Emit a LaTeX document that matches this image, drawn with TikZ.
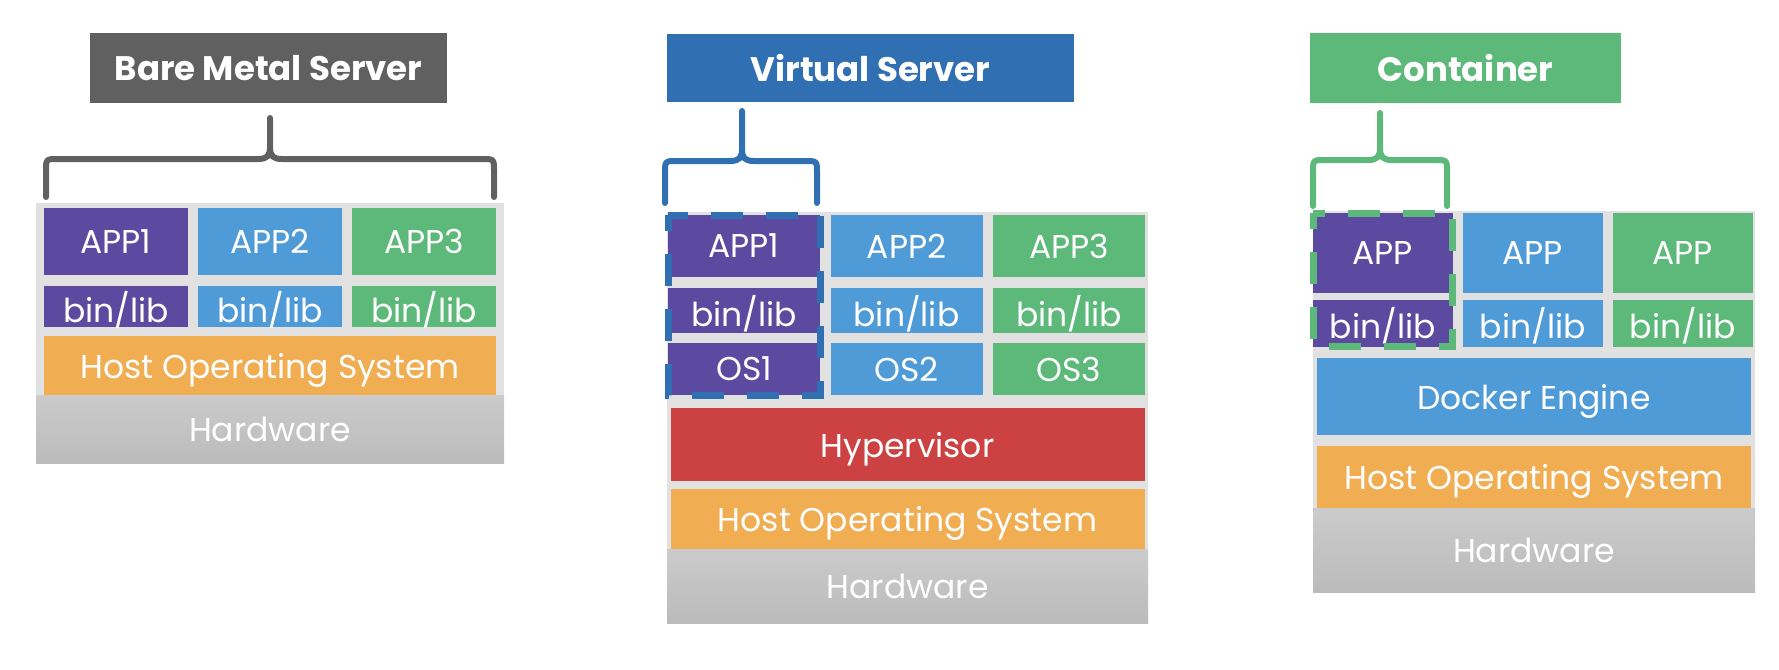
\documentclass[tikz,border=0pt]{standalone}
\usepackage{fontspec}
\setmainfont{Poppins}
\usetikzlibrary{positioning}

\definecolor{appPurple}{HTML}{5B4A9F}
\definecolor{appBlue}{HTML}{4F9BD7}
\definecolor{appGreen}{HTML}{5CB979}
\definecolor{hostOrange}{HTML}{F1AD52}
\definecolor{hypRed}{HTML}{CC4242}
\definecolor{titleGray}{HTML}{606060}
\definecolor{titleBlue}{HTML}{3070B2}
\definecolor{stackGray}{HTML}{E1E1E1}
\definecolor{hwTop}{HTML}{CBCBCB}
\definecolor{hwBottom}{HTML}{BBBBBB}

\tikzset{
  % cell style is used for every coloured layer of a stack
  cell/.style={rectangle, inner sep=0pt, outer sep=0pt, text=white, text depth=0pt,
  font=\fontsize{33}{36}\selectfont},
  titlebox/.style={cell, anchor=north west, font=\bfseries\fontsize{34}{38}\selectfont},
  stackbg/.style={rectangle, inner sep=0pt, outer sep=0pt, anchor=north west, fill=stackGray},
  hwcell/.style={cell, anchor=south, top color=hwTop, bottom color=hwBottom},
  bracket/.style={line width=6pt, line cap=round, line join=round},
  dashbox/.style={line width=7pt, dash pattern=on 32pt off 23pt, dash phase=16pt}}

\begin{document}
\begin{tikzpicture}[x=1pt, y=-1pt]

\path[fill=white] (0,0) rectangle (1779,669);

% ---------------- Bare Metal Server ----------------
\draw (90,33) node (bmtitle) [titlebox, fill=titleGray, minimum width=357pt, minimum height=70pt] {Bare Metal Server};

\draw [bracket, titleGray] (46,197) -- (46,171) .. controls (46,159) .. (58,159) -- (258,159)
  .. controls (267,159) and (270,156) .. (270,147) -- (270,118);
\draw [bracket, titleGray] (494,197) -- (494,171) .. controls (494,159) .. (482,159) -- (282,159)
  .. controls (273,159) and (270,156) .. (270,147);

\draw (36,203) node (bmstack) [stackbg, minimum width=468pt, minimum height=260pt] {};
\draw (bmstack.south) node (bmhw) [hwcell, minimum width=468pt, minimum height=68pt] {Hardware};
\draw (bmhw.north) node (bmhost) [cell, anchor=south, fill=hostOrange, minimum width=452pt, minimum height=59pt] {Host Operating System};

\draw (44,327) node (bmlib1) [cell, anchor=south west, fill=appPurple, minimum width=144pt, minimum height=41pt] {bin/lib};
\node (bmlib2) [cell, right=10pt of bmlib1, fill=appBlue, minimum width=144pt, minimum height=41pt] {bin/lib};
\node (bmlib3) [cell, right=10pt of bmlib2, fill=appGreen, minimum width=144pt, minimum height=41pt] {bin/lib};

\node (bmapp1) [cell, above=11pt of bmlib1, fill=appPurple, minimum width=144pt, minimum height=67pt] {APP1};
\node (bmapp2) [cell, above=11pt of bmlib2, fill=appBlue, minimum width=144pt, minimum height=67pt] {APP2};
\node (bmapp3) [cell, above=11pt of bmlib3, fill=appGreen, minimum width=144pt, minimum height=67pt] {APP3};

% ---------------- Virtual Server ----------------
\draw (667,34) node (vstitle) [titlebox, fill=titleBlue, minimum width=407pt, minimum height=68pt] {Virtual Server};

\draw [bracket, titleBlue] (665,203) -- (665,173) .. controls (665,161) .. (677,161) -- (730,161)
  .. controls (739,161) and (742,158) .. (742,149) -- (742,111);
\draw [bracket, titleBlue] (817,203) -- (817,173) .. controls (817,161) .. (805,161) -- (754,161)
  .. controls (745,161) and (742,158) .. (742,149);

\draw (667,212) node (vsstack) [stackbg, minimum width=481pt, minimum height=411pt] {};
\draw (vsstack.south) node (vshw) [hwcell, minimum width=481pt, minimum height=74pt] {Hardware};
\draw (vshw.north) node (vshost) [cell, anchor=south, fill=hostOrange, minimum width=474pt, minimum height=60.5pt] {Host Operating System};
\node (vshyp) [cell, above=7.5pt of vshost, fill=hypRed, minimum width=474pt, minimum height=73pt] {Hypervisor};

\draw (668,395) node (vsos1) [cell, anchor=south west, fill=appPurple, minimum width=152pt, minimum height=52pt] {OS1};
\node (vsos2) [cell, right=10.5pt of vsos1, fill=appBlue, minimum width=152pt, minimum height=52pt] {OS2};
\node (vsos3) [cell, right=10.5pt of vsos2, fill=appGreen, minimum width=152pt, minimum height=52pt] {OS3};

\node (vslib1) [cell, above=10pt of vsos1, fill=appPurple, minimum width=152pt, minimum height=45pt] {bin/lib};
\node (vslib2) [cell, above=10pt of vsos2, fill=appBlue, minimum width=152pt, minimum height=45pt] {bin/lib};
\node (vslib3) [cell, above=10pt of vsos3, fill=appGreen, minimum width=152pt, minimum height=45pt] {bin/lib};

\node (vsapp1) [cell, above=11pt of vslib1, fill=appPurple, minimum width=152pt, minimum height=62pt] {APP1};
\node (vsapp2) [cell, above=11pt of vslib2, fill=appBlue, minimum width=152pt, minimum height=62pt] {APP2};
\node (vsapp3) [cell, above=11pt of vslib3, fill=appGreen, minimum width=152pt, minimum height=62pt] {APP3};

\draw [dashbox, titleBlue] (vsapp1.north west) rectangle (vsos1.south east);

% ---------------- Container ----------------
\draw (1310,33) node (cttitle) [titlebox, fill=appGreen, minimum width=311pt, minimum height=70pt] {Container};

\draw [bracket, appGreen] (1313,206) -- (1313,172) .. controls (1313,160) .. (1325,160) -- (1368,160)
  .. controls (1377,160) and (1380,157) .. (1380,148) -- (1380,113);
\draw [bracket, appGreen] (1447,206) -- (1447,172) .. controls (1447,160) .. (1435,160) -- (1392,160)
  .. controls (1383,160) and (1380,157) .. (1380,148);

\draw (1313,211) node (ctstack) [stackbg, minimum width=442pt, minimum height=381pt] {};
\draw (ctstack.south) node (cthw) [hwcell, minimum width=442pt, minimum height=84pt] {Hardware};
\draw (cthw.north) node (cthost) [cell, anchor=south, fill=hostOrange, minimum width=434pt, minimum height=62.5pt] {Host Operating System};
\node (ctdock) [cell, above=10.5pt of cthost, fill=appBlue, minimum width=434pt, minimum height=77pt] {Docker Engine};

\draw (1313,346.5) node (ctlib1) [cell, anchor=south west, fill=appPurple, minimum width=139.5pt, minimum height=46.5pt] {bin/lib};
\node (ctlib2) [cell, right=10.5pt of ctlib1, fill=appBlue, minimum width=139.5pt, minimum height=46.5pt] {bin/lib};
\node (ctlib3) [cell, right=10.5pt of ctlib2, fill=appGreen, minimum width=139.5pt, minimum height=46.5pt] {bin/lib};

\node (ctapp1) [cell, above=7pt of ctlib1, fill=appPurple, minimum width=139.5pt, minimum height=80pt] {APP};
\node (ctapp2) [cell, above=7pt of ctlib2, fill=appBlue, minimum width=139.5pt, minimum height=80pt] {APP};
\node (ctapp3) [cell, above=7pt of ctlib3, fill=appGreen, minimum width=139.5pt, minimum height=80pt] {APP};

\draw [dashbox, appGreen] (ctapp1.north west) rectangle (ctlib1.south east);

\end{tikzpicture}
\end{document}
